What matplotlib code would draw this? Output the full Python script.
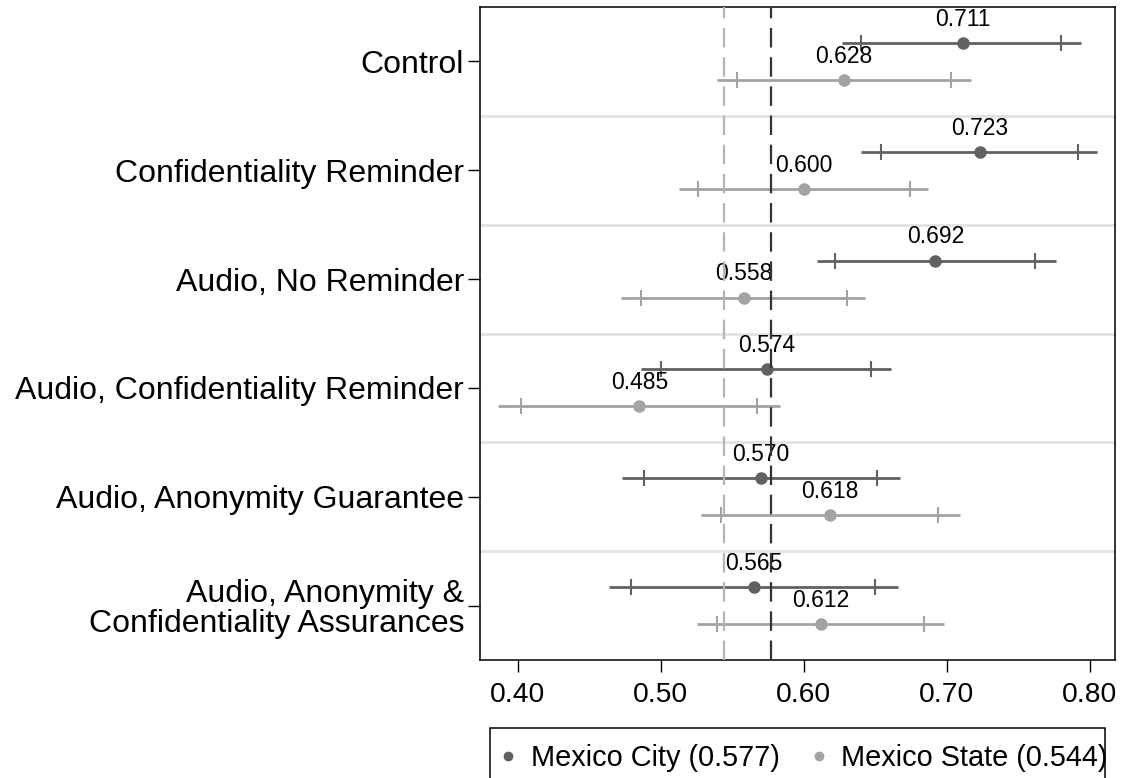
import numpy as np
import matplotlib
matplotlib.use("Agg")
import matplotlib.pyplot as plt
from matplotlib.patches import Rectangle

plt.rcParams['font.family'] = ['Liberation Sans', 'DejaVu Sans']
plt.rcParams['lines.scale_dashes'] = False

categories = ["Control", "Confidentiality Reminder", "Audio, No Reminder",
              "Audio, Confidentiality Reminder", "Audio, Anonymity Guarantee",
              "Audio, Anonymity &\nConfidentiality Assurances"]

# Mexico City: estimate, 95% and 90% intervals
city_est = [0.711, 0.723, 0.692, 0.574, 0.570, 0.565]
city_lo95 = [0.627, 0.640, 0.609, 0.486, 0.473, 0.464]
city_hi95 = [0.794, 0.805, 0.776, 0.661, 0.667, 0.666]
city_lo90 = [0.640, 0.654, 0.622, 0.500, 0.488, 0.479]
city_hi90 = [0.780, 0.792, 0.762, 0.647, 0.651, 0.650]

# Mexico State
state_est = [0.628, 0.600, 0.558, 0.485, 0.618, 0.612]
state_lo95 = [0.539, 0.513, 0.472, 0.386, 0.528, 0.525]
state_hi95 = [0.717, 0.687, 0.643, 0.583, 0.709, 0.698]
state_lo90 = [0.553, 0.526, 0.486, 0.402, 0.542, 0.539]
state_hi90 = [0.703, 0.674, 0.630, 0.567, 0.694, 0.684]

city_mean = 0.577
state_mean = 0.544
xticks = [0.40, 0.50, 0.60, 0.70, 0.80]

dark = '#616161'
light = '#a3a3a3'

fig = plt.figure(figsize=(11.22, 7.78), dpi=100)
ax = fig.add_axes([480/1122, 1 - 660/778, 635/1122, 653/778])

y = np.arange(len(categories))
off = 0.17

# separators between groups
for b in y[:-1] + 0.5:
    ax.axhline(b, color='#e2e2e2', lw=2, zorder=0)

def draw(est, lo95, hi95, lo90, hi90, yy, col, lab):
    ax.hlines(yy, lo95, hi95, color=col, lw=2, zorder=2)
    ax.plot(lo90, yy, '|', color=col, ms=11, mew=1.5, zorder=2)
    ax.plot(hi90, yy, '|', color=col, ms=11, mew=1.5, zorder=2)
    ax.plot(est, yy, 'o', color=col, ms=8, zorder=3, label=lab)
    for xv, yv in zip(est, yy):
        ax.annotate(f"{xv:.3f}", (xv, yv), xytext=(0, 17), textcoords='offset points',
                    ha='center', va='center', fontsize=16.5, zorder=4)

draw(city_est, city_lo95, city_hi95, city_lo90, city_hi90, y - off, dark,
     f"Mexico City ({city_mean:.3f})")
draw(state_est, state_lo95, state_hi95, state_lo90, state_hi90, y + off, light,
     f"Mexico State ({state_mean:.3f})")

ax.axvline(state_mean, color='#b5b5b5', lw=1.6, dashes=(14, 7), zorder=5)
ax.axvline(city_mean, color='#333333', lw=1.6, dashes=(14, 7), zorder=5)

ax.set_xlim(0.3735, 0.8176)
ax.set_ylim(5.5, -0.5)
ax.set_yticks(y)
ax.set_yticklabels(categories, fontsize=23, linespacing=1.0)
ax.set_xticks(xticks)
ax.set_xticklabels([f"{t:.2f}" for t in xticks], fontsize=20.3)
ax.tick_params(axis='both', length=8.5, width=1, pad=3)
ax.tick_params(axis='x', pad=7)
for s in ax.spines.values():
    s.set_linewidth(1.1)

# legend entries without frame, box drawn separately (runs off the bottom)
leg = fig.legend(loc='center left', bbox_to_anchor=(506.5/1122, 1 - 758/778), ncol=2,
                 fontsize=20.8, frameon=False,
                 handletextpad=0.74, columnspacing=1.3, borderpad=0,
                 borderaxespad=0, handlelength=0.1, markerscale=0.75)
fig.patches.append(Rectangle((490/1122, -0.05), (1105 - 490)/1122, 1 - 728/778 + 0.05,
                             transform=fig.transFigure, fill=False, lw=1.1, ec='black'))

fig.savefig("out.png", dpi=100)
